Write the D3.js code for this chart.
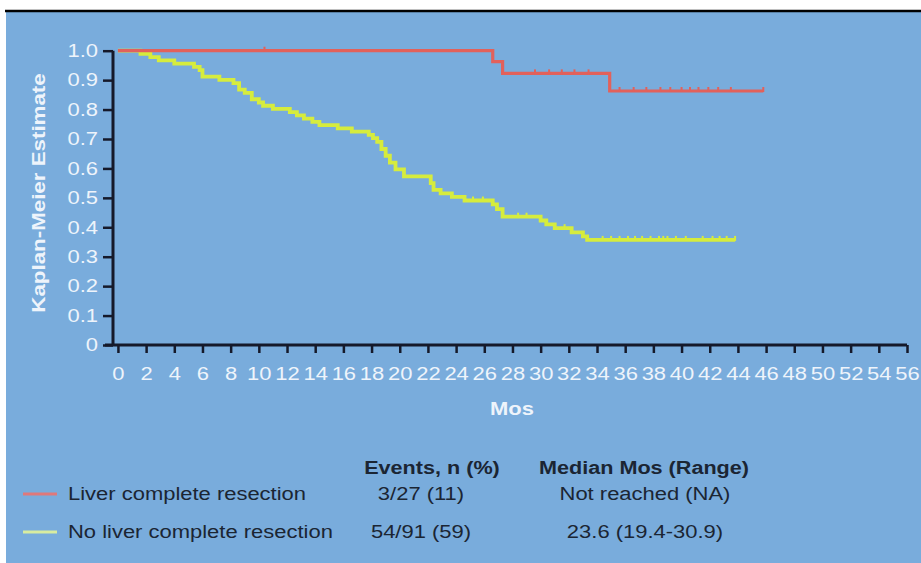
<!DOCTYPE html>
<html>
<head>
<meta charset="utf-8">
<script src="https://cdn.jsdelivr.net/npm/d3@7"></script>
<style>
  body { margin: 0; background: #fff; }
  svg { display: block; font-family: "Liberation Sans", Arial, sans-serif; }
</style>
</head>
<body>
<div id="chart"></div>
<script>
// chart size
var svgWidth = 921;
var svgHeight = 563;

// tick labels
var xTicks = d3.range(0, 57, 2);
var yTicks = d3.range(0, 11).map(d => d / 10);

// series names + colours
var seriesNames = ["Liver complete resection", "No liver complete resection"];
var seriesColors = ["#e2615b", "#d6ec3d"];
var legendColors = ["#e0787a", "#d8eca0"];

// Kaplan-Meier steps [month, estimate]
var liverSteps = [[0, 1.0], [26.6, 0.963], [27.3, 0.923], [34.9, 0.863], [45.8, 0.863]];
var liverCensor = [10.4, 29.6, 30.6, 31.5, 32.4, 33.4, 35.6, 36.6, 37.5, 38.5, 39.2, 40.0, 40.6, 41.2, 41.9, 42.6, 43.5, 45.8];

var noLiverSteps = [[0, 1.0], [1.6, 0.989], [2.3, 0.978], [2.9, 0.967], [4.0, 0.956], [5.4, 0.945],
  [5.8, 0.934], [6.0, 0.912], [7.2, 0.901], [8.2, 0.89], [8.6, 0.868], [9.0, 0.857], [9.5, 0.835],
  [10.0, 0.824], [10.3, 0.813], [11.0, 0.802], [12.2, 0.791], [12.7, 0.78], [13.2, 0.769],
  [13.8, 0.758], [14.3, 0.747], [15.6, 0.736], [16.6, 0.725], [17.8, 0.714], [18.1, 0.703],
  [18.4, 0.69], [18.7, 0.666], [19.0, 0.643], [19.3, 0.62], [19.7, 0.597], [20.3, 0.573],
  [22.2, 0.55], [22.4, 0.527], [22.9, 0.515], [23.7, 0.503], [24.6, 0.491], [26.6, 0.478],
  [26.9, 0.462], [27.3, 0.436], [30.0, 0.423], [30.4, 0.41], [31.0, 0.397], [32.2, 0.383],
  [33.0, 0.369], [33.3, 0.357], [43.8, 0.357]];
var noLiverCensor = [25.2, 25.9, 28.4, 29.0, 31.7, 34.4, 35.0, 35.6, 36.2, 36.7, 37.2, 37.8, 38.4,
  38.7, 39.0, 39.6, 40.3, 41.5, 42.2, 42.7, 43.2, 43.8];

// table
var tableHeaders = ["Events, n (%)", "Median Mos (Range)"];
var eventsCol = ["3/27 (11)", "54/91 (59)"];
var medianCol = ["Not reached (NA)", "23.6 (19.4-30.9)"];

var svg = d3.select("#chart")
  .append("svg")
  .attr("width", svgWidth)
  .attr("height", svgHeight);

// background panel + black rule on top
svg.append("rect")
  .attr("x", 6).attr("y", 12)
  .attr("width", svgWidth - 6).attr("height", svgHeight - 12)
  .attr("fill", "#79acdc");
svg.append("line")
  .attr("x1", 5).attr("x2", svgWidth)
  .attr("y1", 11).attr("y2", 11)
  .attr("stroke", "#000").attr("stroke-width", 2.5);

// stretch text a bit, the source font is wide
function stretch(sel, k) {
  sel.each(function () {
    var w = this.getComputedTextLength();
    d3.select(this).attr("textLength", w * k).attr("lengthAdjust", "spacingAndGlyphs");
  });
}

var x = d3.scaleLinear().domain([-0.35, 56]).range([113, 907]);
var y = d3.scaleLinear().domain([0, 1]).range([345, 50.7]);

// axes
var xAxis = svg.append("g")
  .attr("transform", "translate(0,345)")
  .call(d3.axisBottom(x).tickValues(xTicks).tickSize(8).tickPadding(14).tickSizeOuter(0));
xAxis.select(".domain").attr("d", "M105,0H907").attr("stroke", "#15192a").attr("stroke-width", 3);
xAxis.selectAll(".tick line").attr("stroke", "#15192a").attr("stroke-width", 2.5);
xAxis.selectAll("text").attr("fill", "#eef4fb").attr("font-size", 18).call(stretch, 1.22);

var yAxis = svg.append("g")
  .attr("transform", "translate(113,0)")
  .call(d3.axisLeft(y).tickValues(yTicks).tickSize(10).tickPadding(5).tickSizeOuter(0)
    .tickFormat(d => d === 0 ? "0" : d3.format(".1f")(d)));
yAxis.select(".domain").attr("d", "M0,345V50.7").attr("stroke", "#15192a").attr("stroke-width", 3);
yAxis.selectAll(".tick line").attr("stroke", "#15192a").attr("stroke-width", 2.5);
yAxis.selectAll("text").attr("fill", "#eef4fb").attr("font-size", 18).call(stretch, 1.22);

// axis titles
svg.append("text")
  .attr("transform", "translate(45,193) rotate(-90)")
  .attr("text-anchor", "middle")
  .attr("font-size", 18).attr("font-weight", "bold")
  .attr("fill", "#eef4fb")
  .text("Kaplan-Meier Estimate")
  .call(stretch, 1.24);

svg.append("text")
  .attr("x", 512).attr("y", 415)
  .attr("text-anchor", "middle")
  .attr("font-size", 18).attr("font-weight", "bold")
  .attr("fill", "#eef4fb")
  .text("Mos")
  .call(stretch, 1.22);

// curves
var line = d3.line()
  .x(d => x(d[0]))
  .y(d => y(d[1]))
  .curve(d3.curveStepAfter);

function stepAt(steps, t) {
  var v = steps[0][1];
  steps.forEach(function (s) { if (s[0] <= t) v = s[1]; });
  return v;
}

var series = [
  { steps: noLiverSteps, censor: noLiverCensor, color: seriesColors[1], w: 3.8 },
  { steps: liverSteps, censor: liverCensor, color: seriesColors[0], w: 3.2 }
];

series.forEach(function (s) {
  svg.append("path")
    .datum(s.steps)
    .attr("d", line)
    .attr("fill", "none")
    .attr("stroke", s.color)
    .attr("stroke-width", s.w);

  svg.selectAll(null)
    .data(s.censor)
    .enter()
    .append("line")
    .attr("x1", d => x(d)).attr("x2", d => x(d))
    .attr("y1", d => y(stepAt(s.steps, d)) - 4)
    .attr("y2", d => y(stepAt(s.steps, d)) + 1)
    .attr("stroke", s.color)
    .attr("stroke-width", 2);
});

// table / legend
var dark = "#1b2533";
svg.append("text").attr("x", 432).attr("y", 474).attr("text-anchor", "middle")
  .attr("font-size", 18).attr("font-weight", "bold").attr("fill", dark)
  .text(tableHeaders[0]).call(stretch, 1.2);
svg.append("text").attr("x", 644).attr("y", 474).attr("text-anchor", "middle")
  .attr("font-size", 18).attr("font-weight", "bold").attr("fill", dark)
  .text(tableHeaders[1]).call(stretch, 1.2);

var rowY = [500, 538];
seriesNames.forEach(function (name, i) {
  svg.append("line")
    .attr("x1", 23).attr("x2", 57)
    .attr("y1", rowY[i] - 6).attr("y2", rowY[i] - 6)
    .attr("stroke", legendColors[i]).attr("stroke-width", 3);
  svg.append("text").attr("x", 68).attr("y", rowY[i])
    .attr("font-size", 18).attr("fill", dark)
    .text(name).call(stretch, 1.22);
  svg.append("text").attr("x", 421).attr("y", rowY[i]).attr("text-anchor", "middle")
    .attr("font-size", 18).attr("fill", dark)
    .text(eventsCol[i]).call(stretch, 1.22);
  svg.append("text").attr("x", 645).attr("y", rowY[i]).attr("text-anchor", "middle")
    .attr("font-size", 18).attr("fill", dark)
    .text(medianCol[i]).call(stretch, 1.22);
});
</script>
</body>
</html>
